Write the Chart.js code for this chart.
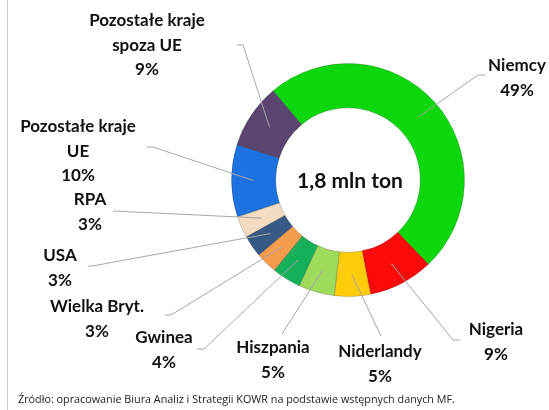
<!DOCTYPE html>
<html>
<head>
<meta charset="utf-8">
<script src="https://cdn.jsdelivr.net/npm/chart.js@4"></script>
<style>
  body { margin: 0; background: #fff; }
  #wrap { position: relative; width: 549px; height: 410px; }
  #frame { position: absolute; left: 7px; top: 0; width: 1px; height: 410px; background: #c8c8c8; }
  #source {
    position: absolute; left: 18px; top: 391px;
    font: 10.8px "Open Sans", sans-serif; color: #222;
  }
</style>
</head>
<body>
<div id="wrap">
  <canvas id="importChart" width="549" height="410"></canvas>
  <div id="frame"></div>
  <div id="source">Źródło: opracowanie Biura Analiz i Strategii KOWR na podstawie wstępnych danych MF.</div>
</div>
<script>
// data
const countries = [
  "Niemcy",
  "Nigeria",
  "Niderlandy",
  "Hiszpania",
  "Gwinea",
  "Wielka Bryt.",
  "USA",
  "RPA",
  "Pozostałe kraje\nUE",
  "Pozostałe kraje\nspoza UE",
];
const shares = [49, 9, 5, 5, 4, 3, 3, 3, 10, 9];
const totalLabel = "1,8 mln ton";

const sliceColors = [
  "#0cd60c",
  "#fb0a0a",
  "#ffcc0a",
  "#9edb5c",
  "#16b05a",
  "#f59c4e",
  "#375985",
  "#f3dcc2",
  "#1c72e0",
  "#5a4470",
];

// where each label sits: [text x, first line y, elbow x, elbow y, line end x]
const labelLayout = [
  [517, 66, 478, 75, 485],
  [496, 330, 453, 340, 460],
  [380, 352, 381, 336, null],
  [273, 348, 282, 334, null],
  [164, 338, 204, 349, 197],
  [97, 307, 171, 315, 165],
  [60, 256, 92, 266, 88],
  [90, 200, 113, 211, null],
  [78, 127, 153, 147, 147],
  [147, 21, 243, 45, 237],
];

const labelFont = 'bold 17px Lato, "Noto Sans", sans-serif';

const calloutPlugin = {
  id: "callouts",
  afterDatasetsDraw(chart) {
    const ctx = chart.ctx;
    const arcs = chart.getDatasetMeta(0).data;
    ctx.save();

    // leader lines
    ctx.strokeStyle = "#a6a6a6";
    ctx.lineWidth = 1;
    arcs.forEach(function (arc, i) {
      const mid = (arc.startAngle + arc.endAngle) / 2;
      const r = (arc.innerRadius + arc.outerRadius) / 2;
      const sx = arc.x + Math.cos(mid) * r;
      const sy = arc.y + Math.sin(mid) * r;
      const lay = labelLayout[i];
      ctx.beginPath();
      ctx.moveTo(sx, sy);
      ctx.lineTo(lay[2], lay[3]);
      if (lay[4] !== null) ctx.lineTo(lay[4], lay[3]);
      ctx.stroke();
    });

    // label texts
    ctx.fillStyle = "#111";
    ctx.font = labelFont;
    ctx.textAlign = "center";
    ctx.textBaseline = "middle";
    countries.forEach(function (name, i) {
      const lay = labelLayout[i];
      const lines = name.split("\n");
      lines.push(shares[i] + "%");
      lines.forEach(function (line, k) {
        ctx.fillText(line, lay[0], lay[1] + k * 24.5);
      });
    });

    // centre text
    ctx.font = 'bold 21px Lato, "Noto Sans", sans-serif';
    ctx.fillText(totalLabel, arcs[0].x + 2, arcs[0].y + 1);
    ctx.restore();
  },
};

new Chart("importChart", {
  type: "doughnut",
  data: {
    labels: countries,
    datasets: [
      {
        data: shares,
        backgroundColor: sliceColors,
        borderColor: "rgba(0,0,0,0.18)",
        borderWidth: 1,
      },
    ],
  },
  options: {
    responsive: false,
    animation: false,
    rotation: -40,
    cutout: "62%",
    layout: { padding: { left: 231, right: 84, top: 61, bottom: 111 } },
    plugins: {
      legend: { display: false },
      tooltip: { enabled: false },
    },
  },
  plugins: [calloutPlugin],
});
</script>
</body>
</html>
